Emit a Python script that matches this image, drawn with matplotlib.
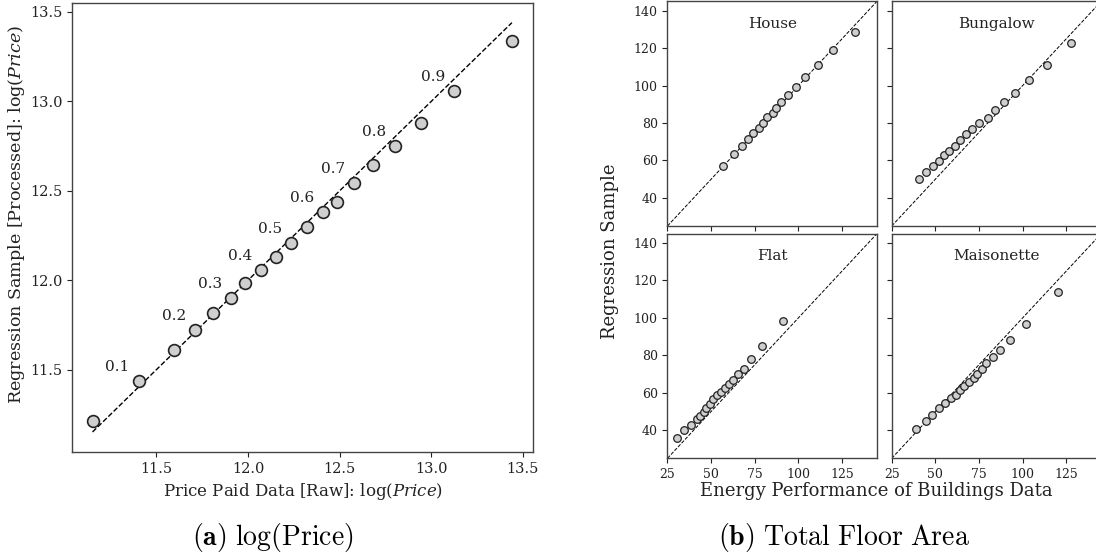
import matplotlib
matplotlib.use('Agg')
import matplotlib.pyplot as plt

plt.rcParams['font.family'] = 'DejaVu Serif'
plt.rcParams['mathtext.fontset'] = 'dejavuserif'

# (a) quantiles of log(price), 0.05 .. 0.95
raw_q = [11.152, 11.403, 11.595, 11.713, 11.81, 11.91, 11.985, 12.07, 12.154, 12.236,
         12.323, 12.41, 12.487, 12.577, 12.682, 12.80, 12.943, 13.125, 13.44]
proc_q = [11.215, 11.439, 11.61, 11.723, 11.815, 11.90, 11.984, 12.059, 12.13, 12.208,
          12.30, 12.38, 12.44, 12.543, 12.647, 12.753, 12.88, 13.057, 13.34]
q_labels = ['0.1', '0.2', '0.3', '0.4', '0.5', '0.6', '0.7', '0.8', '0.9']

# (b) floor area quantiles per property type
house_epc = [56.8, 62.9, 67.9, 71.1, 74.1, 77.2, 80.0, 82.0, 85.2, 86.9, 90.1, 93.9, 98.5,
             104.0, 111.3, 120.0, 132.2]
house_reg = [57.1, 63.6, 67.9, 71.6, 74.6, 77.3, 80.0, 83.0, 85.3, 88.0, 91.0, 94.9, 99.0,
             104.7, 111.0, 118.9, 128.8]
bung_epc = [40.8, 44.8, 48.4, 51.9, 54.9, 58.0, 61.0, 64.0, 67.7, 71.1, 74.9, 80.0, 84.0,
            89.6, 95.9, 103.9, 114.0, 128.0]
bung_reg = [49.9, 54.0, 56.9, 59.9, 62.7, 65.0, 67.9, 70.9, 73.9, 76.9, 79.8, 82.8, 86.9,
            91.0, 96.0, 103.1, 111.0, 122.8]
flat_epc = [30.3, 34.7, 38.7, 41.8, 43.7, 46.0, 47.3, 49.2, 51.0, 53.4, 55.5, 58.0, 60.5,
            62.8, 65.6, 68.9, 73.1, 79.0, 91.2]
flat_reg = [36.1, 40.0, 42.8, 45.9, 47.8, 49.8, 51.7, 54.2, 56.7, 58.7, 60.6, 62.6, 64.9,
            67.0, 70.0, 72.9, 77.8, 85.1, 98.6]
mais_epc = [38.9, 44.6, 47.9, 51.9, 55.3, 58.9, 62.0, 64.0, 66.7, 69.0, 71.9, 74.0, 76.6,
            79.3, 83.1, 86.9, 92.6, 101.8, 120.0]
mais_reg = [40.4, 45.0, 48.3, 51.7, 54.6, 57.1, 59.0, 61.7, 63.8, 65.9, 67.9, 69.8, 72.9,
            75.7, 78.9, 83.0, 88.0, 96.8, 114.1]

panels = [('House', house_epc, house_reg), ('Bungalow', bung_epc, bung_reg),
          ('Flat', flat_epc, flat_reg), ('Maisonette', mais_epc, mais_reg)]

fig = plt.figure(figsize=(10.96, 5.56), dpi=100)
spine_col = '#444444'
txt_col = '#222222'

# ---- left panel
ax = fig.add_axes([0.0657, 0.187, 0.4206, 0.8076])
lo, hi = min(raw_q), max(raw_q)
ax.plot([lo, hi], [lo, hi], '--', color='black', lw=1.0, zorder=1)
ax.scatter(raw_q, proc_q, s=72, facecolor='#cfcfcf', edgecolor='#222222', lw=1.2, zorder=2)
for i, lab in enumerate(q_labels):
    k = 2 * i + 1
    ax.annotate(lab, (raw_q[k], proc_q[k]), xytext=(-21, 14), textcoords='offset pixels',
                ha='center', va='center', fontsize=11, color=txt_col)
ax.set_xlim(11.04, 13.555)
ax.set_ylim(11.04, 13.55)
ax.set_xticks([11.5, 12.0, 12.5, 13.0, 13.5])
ax.set_yticks([11.5, 12.0, 12.5, 13.0, 13.5])
ax.tick_params(labelsize=10.5, colors=txt_col)
for s in ax.spines.values():
    s.set_color(spine_col)
    s.set_linewidth(1.0)

fig.text(303 / 1096, 1 - 491 / 556, 'Price Paid Data [Raw]: log($\\it{Price}$)',
         ha='center', va='center', fontsize=12, color=txt_col)
fig.text(17 / 1096, 1 - 214 / 556, 'Regression Sample [Processed]: log($\\it{Price}$)',
         rotation=90, ha='center', va='center', fontsize=12.6, color=txt_col)

# ---- right 2x2
lefts = [0.609, 0.8136]
bottoms = [0.5935, 0.1757]
for idx, (name, xe, yr) in enumerate(panels):
    r, c = divmod(idx, 2)
    a = fig.add_axes([lefts[c], bottoms[r], 0.1911, 0.404])
    a.plot([25, 145], [25, 145], '--', color='black', lw=0.7, zorder=1)
    a.scatter(xe, yr, s=30, facecolor='#cfcfcf', edgecolor='#222222', lw=0.9, zorder=2)
    a.set_xlim(25, 145)
    a.set_ylim(25, 145)
    a.set_xticks([25, 50, 75, 100, 125])
    a.set_yticks([40, 60, 80, 100, 120, 140])
    a.tick_params(labelsize=9, colors=txt_col, length=3.5)
    a.text(0.5, 0.9, name, transform=a.transAxes, ha='center', va='center',
           fontsize=11, color=txt_col)
    if r == 0:
        a.tick_params(labelbottom=False)
    if c == 1:
        a.tick_params(labelleft=False)
    for s in a.spines.values():
        s.set_color(spine_col)
        s.set_linewidth(1.0)

fig.text(876 / 1096, 1 - 491 / 556, 'Energy Performance of Buildings Data',
         ha='center', va='center', fontsize=13, color=txt_col)
fig.text(610 / 1096, 1 - 251 / 556, 'Regression Sample', rotation=90,
         ha='center', va='center', fontsize=13, color=txt_col)

# captions
fig.text(273 / 1096, 1 - 537 / 556, '$\\mathbf{(a)}\\ \\mathrm{log(Price)}$',
         ha='center', va='center', fontsize=20, math_fontfamily='cm')
fig.text(844 / 1096, 1 - 537 / 556, '$\\mathbf{(b)}\\ \\mathrm{Total\\ Floor\\ Area}$',
         ha='center', va='center', fontsize=20, math_fontfamily='cm')

fig.savefig('out.png', dpi=100)
